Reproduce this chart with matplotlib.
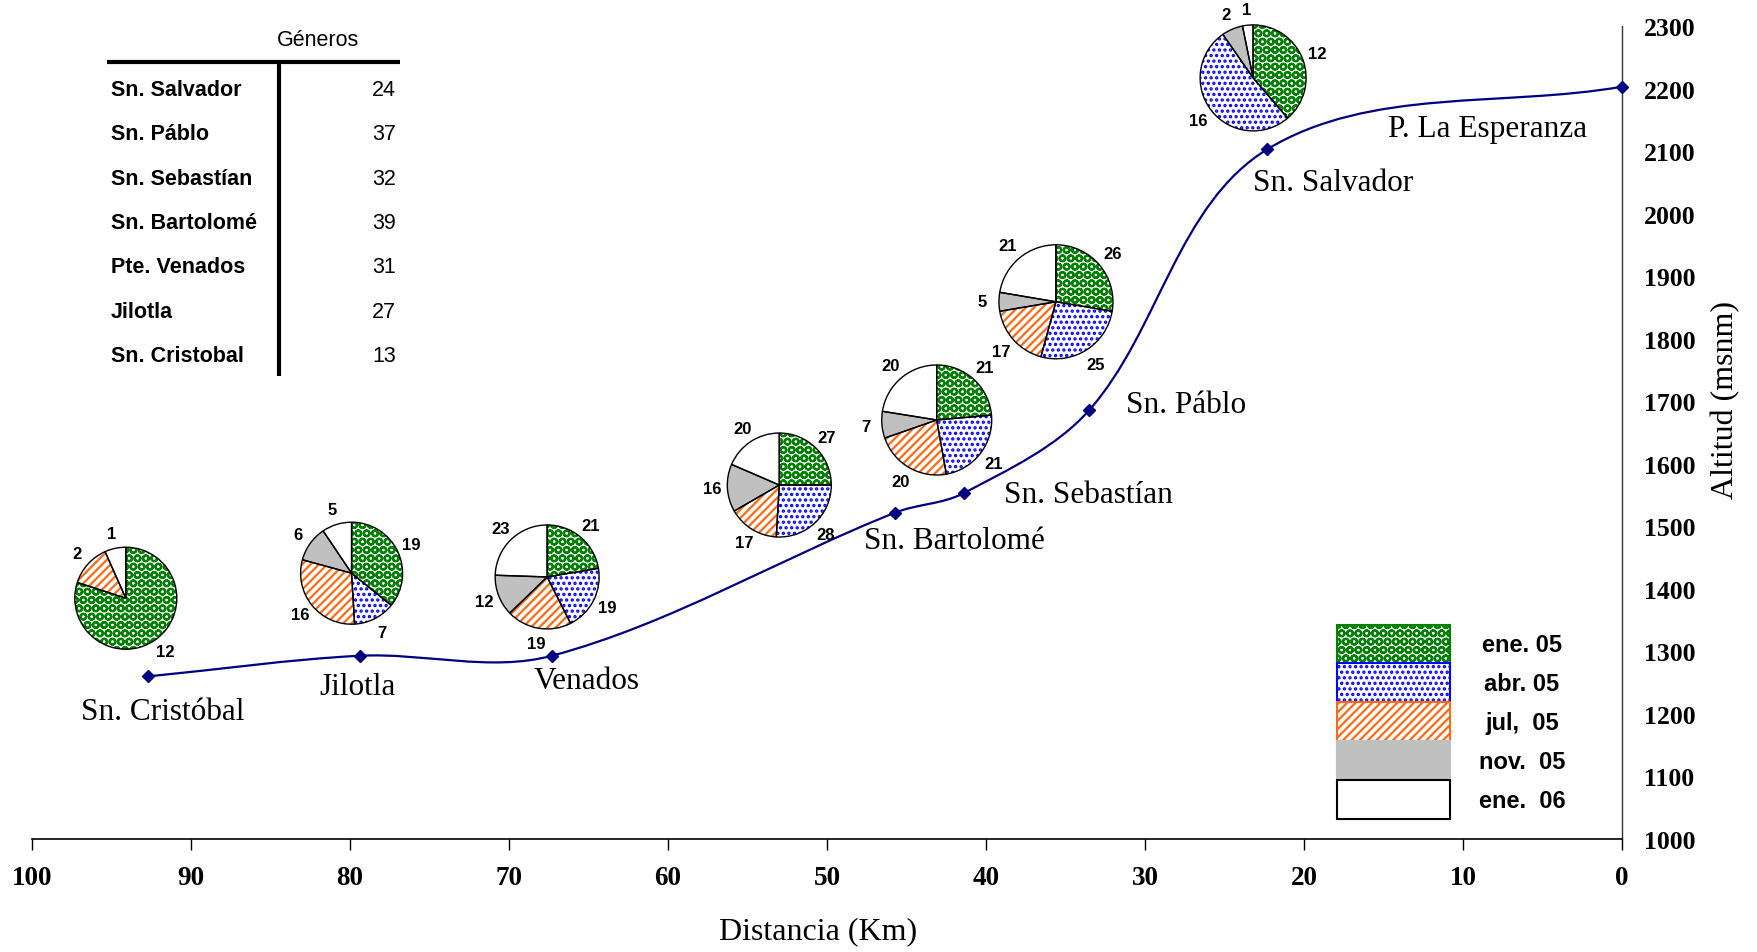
import numpy as np
import matplotlib
matplotlib.use('Agg')
from matplotlib import pyplot as plt
from matplotlib import font_manager
from matplotlib.path import Path
from matplotlib.patches import PathPatch, Rectangle

# Perfil altitudinal: estaciones, distancia y altitud
estaciones = ['Sn. Cristóbal', 'Jilotla', 'Venados', 'Sn. Bartolomé', 'Sn. Sebastían',
              'Sn. Páblo', 'Sn. Salvador', 'P. La Esperanza']
distancia_km = [92.7, 79.4, 67.3, 45.7, 41.4, 33.5, 22.3, 0.0]
altitud = [1260, 1293, 1293, 1522, 1553, 1686, 2103, 2203]

# Géneros por fecha (una pie por estación, P. La Esperanza no tiene)
fechas = ['ene. 05', 'abr. 05', 'jul,  05', 'nov.  05', 'ene.  06']
ene05 = [12, 19, 21, 27, 21, 26, 12]
abr05 = [0, 7, 19, 28, 21, 25, 16]
jul05 = [2, 16, 19, 17, 20, 17, 0]
nov05 = [0, 6, 12, 16, 7, 5, 2]
ene06 = [1, 5, 23, 20, 20, 21, 1]

# Tabla de géneros
tabla_sitios = ['Sn. Salvador', 'Sn. Páblo', 'Sn. Sebastían', 'Sn. Bartolomé',
                'Pte. Venados', 'Jilotla', 'Sn. Cristobal']
tabla_generos = [24, 37, 32, 39, 31, 27, 13]

# --- layout ---
W, H = 1757, 953
pie_km = [94.1, 79.9, 67.6, 53.0, 43.1, 35.6, 23.2]
pie_alt = [1385, 1425, 1419, 1566, 1670, 1859, 2217]
pie_r = [51, 51, 52, 52, 55, 57, 53]
label_off = [(15, -35), (-2, -31), (35, -25), (59, -28), (125, -1), (97, 5), (66, -33), (-134, -42)]

plt.rcParams['hatch.linewidth'] = 1.6
names = {f.name for f in font_manager.fontManager.ttflist}
serif = 'Liberation Serif'
sans = 'Liberation Sans'
if 'Liberation Sans Narrow' in names:
    narrow, tsize = 'Liberation Sans Narrow', 17
else:
    narrow, tsize = sans, 15.5

colores = ['#008000', '#0000ff', '#ff6a13', '#c0c0c0', 'white']
bordes = ['#008000', '#0000ff', '#ff6a13', '#c0c0c0', 'black']
tramas = ['OO', '...', '////', None, None]
navy = '#000080'

fig = plt.figure(figsize=(W / 100, H / 100), dpi=100)
ax = fig.add_axes([32 / W, 1 - 840 / H, 1590 / W, 813 / H])
ax.set_xlim(100, 0)
ax.set_ylim(1000, 2300)
for s in ['top', 'left']:
    ax.spines[s].set_visible(False)
ax.spines['bottom'].set_linewidth(1.2)
ax.spines['right'].set_linewidth(1.0)
ax.spines['right'].set_color('#333333')
ax.yaxis.tick_right()
ax.set_xticks(range(0, 101, 10))
ax.set_yticks(range(1000, 2301, 100))
ax.tick_params(axis='x', direction='out', length=8, width=1, pad=11)
ax.tick_params(axis='y', length=0, pad=16)
for t in ax.get_xticklabels():
    t.set_fontfamily(serif); t.set_fontweight('bold'); t.set_fontsize(19.5)
for t in ax.get_yticklabels():
    t.set_fontfamily(serif); t.set_fontweight('bold'); t.set_fontsize(18.5)

# smoothed line, bezier handles scaled by chord length (computed in pixels)
P = ax.transData.transform(np.column_stack([distancia_km, altitud]))
n = len(P)
tang = []
for i in range(n):
    a, b = max(i - 1, 0), min(i + 1, n - 1)
    d = P[b] - P[a]
    tang.append(d / np.hypot(*d))
verts = [P[0]]
codes = [Path.MOVETO]
for i in range(n - 1):
    L = np.hypot(*(P[i + 1] - P[i])) / 3
    verts += [P[i] + tang[i] * L, P[i + 1] - tang[i + 1] * L, P[i + 1]]
    codes += [Path.CURVE4] * 3
verts = ax.transData.inverted().transform(np.array(verts))
ax.add_patch(PathPatch(Path(verts, codes), fill=False, ec=navy, lw=1.6, clip_on=False))
ax.plot(distancia_km, altitud, 'D', color=navy, ms=6, clip_on=False, zorder=5)

for name, x, y, off in zip(estaciones, distancia_km, altitud, label_off):
    ax.annotate(name, (x, y), xytext=off, textcoords='offset pixels', ha='center', va='center',
                fontsize=22.5, family=serif)

fig.text(818 / W, 1 - 932 / H, 'Distancia (Km)', ha='center', va='center', fontsize=23, family=serif)
fig.text(1726 / W, 1 - 400 / H, 'Altitud (msnm)', ha='center', va='center', rotation=90,
         fontsize=23, family=serif)

# overlay in pixel coords (y up) for pies, table and legend
ov = fig.add_axes([0, 0, 1, 1])
grupos = np.array([ene05, abr05, jul05, nov05, ene06])
for k in range(len(pie_km)):
    cx, cy = ax.transData.transform((pie_km[k], pie_alt[k]))
    vals = grupos[:, k]
    keep = [j for j in range(5) if vals[j] > 0]
    v = [vals[j] for j in keep]
    wedges, texts = ov.pie(v, labels=[str(x) for x in v], startangle=90, counterclock=False,
                           center=(cx, cy), radius=pie_r[k], labeldistance=1.3,
                           textprops=dict(fontsize=12, fontweight='bold', family=sans))
    for w, j in zip(wedges, keep):
        w.set_facecolor(colores[j])
        w.set_edgecolor(bordes[j] if tramas[j] else colores[j])
        w.set_linewidth(0)
        if tramas[j]:
            w.set_facecolor('white')
            w.set_hatch(tramas[j])
    for t in texts:
        t.set_ha('center'); t.set_va('center')
    ov.pie(v, startangle=90, counterclock=False, center=(cx, cy), radius=pie_r[k],
           wedgeprops=dict(facecolor='none', edgecolor='black', linewidth=1))

# legend
for j, lab in enumerate(fechas):
    top = 625.5 + j * 38.9
    ov.add_patch(Rectangle((1337, H - top - 38.9), 113, 38.9,
                           facecolor='white' if tramas[j] else colores[j],
                           edgecolor=bordes[j], hatch=tramas[j], lw=1.5))
    ov.text(1522, H - top - 20.5, lab, ha='center', va='center', fontsize=17,
            fontweight='bold', family=sans)

# table
ov.text(318, H - 41, 'Géneros', ha='center', va='center', fontsize=tsize, family=narrow)
ov.plot([107, 400], [H - 63, H - 63], color='black', lw=3, solid_capstyle='butt')
ov.plot([279, 279], [H - 63, H - 377], color='black', lw=3, solid_capstyle='butt')
for i, (s, g) in enumerate(zip(tabla_sitios, tabla_generos)):
    yy = H - (90.7 + i * 44.3)
    ov.text(111, yy, s, ha='left', va='center', fontsize=tsize, fontweight='bold', family=narrow)
    ov.text(396, yy, str(g), ha='right', va='center', fontsize=tsize, family=narrow)

ov.set_xlim(0, W)
ov.set_ylim(0, H)
ov.set_aspect('auto')
ov.axis('off')

fig.savefig('out.png', dpi=100)
